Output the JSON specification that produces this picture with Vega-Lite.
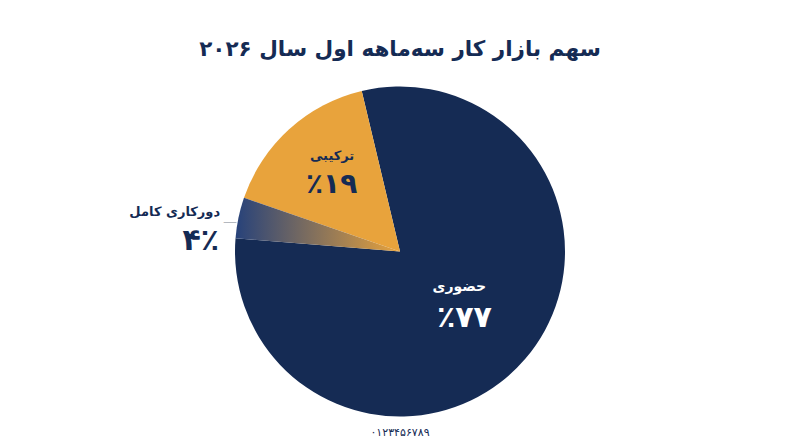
{
"$schema":"https://vega.github.io/schema/vega-lite/v6.json",
"width":800,"height":447,
"autosize":{"type":"fit","contains":"padding"},
"padding":{"top":38,"left":0,"right":0,"bottom":0},
"background":"#ffffff",
"title":{"text":"سهم بازار کار سه‌ماهه اول سال ۲۰۲۶","font":"DejaVu Sans","fontSize":21.5,"fontWeight":"bold","color":"#152b54","anchor":"middle","offset":-4},
"config":{"view":{"stroke":null}},
"data":{"values":[
{"segment":"حضوری","share":80,"pct":"٪۷۷"},
{"segment":"دورکاری کامل","share":4,"pct":"۴٪"},
{"segment":"ترکیبی","share":16,"pct":"٪۱۹"}
]},
"transform":[
{"stack":"share","as":["s0","s1"],"sort":[{"field":"row","order":"ascending"}]},
{"calculate":"(datum.s0+datum.s1)/2","as":"mid"}
],
"layer":[
{"transform":[{"filter":"datum.segment=='حضوری'"}],"mark":{"type":"arc","outerRadius":165,"fill":"#152b54"},"encoding":{"theta":{"field":"s0","type":"quantitative","scale":{"domain":[0,100],"range":[-0.234,6.049]}},"theta2":{"field":"s1"}}},
{"transform":[{"filter":"datum.segment=='ترکیبی'"}],"mark":{"type":"arc","outerRadius":165,"fill":"#e8a33c"},"encoding":{"theta":{"field":"s0","type":"quantitative","scale":{"domain":[0,100],"range":[-0.234,6.049]}},"theta2":{"field":"s1"}}},
{"transform":[{"filter":"datum.segment=='دورکاری کامل'"}],"mark":{"type":"arc","outerRadius":165,"fill":{"gradient":"linear","x1":0,"y1":0,"x2":1,"y2":0,"stops":[{"offset":0,"color":"#27427a"},{"offset":1,"color":"#e8a33c"}]}},"encoding":{"theta":{"field":"s0","type":"quantitative","scale":{"domain":[0,100],"range":[-0.234,6.049]}},"theta2":{"field":"s1"}}},
{"transform":[{"filter":"datum.segment=='حضوری'"}],"mark":{"type":"text","radius":90,"dx":-9,"dy":-23,"font":"DejaVu Sans","fontSize":14,"fontWeight":"bold","color":"#ffffff"},"encoding":{"theta":{"field":"mid","type":"quantitative","scale":{"domain":[0,100],"range":[-0.234,6.049]}},"text":{"field":"segment"}}},
{"transform":[{"filter":"datum.segment=='حضوری'"}],"mark":{"type":"text","radius":90,"dx":-4,"dy":8,"font":"DejaVu Sans","fontSize":30,"fontWeight":"bold","color":"#ffffff"},"encoding":{"theta":{"field":"mid","type":"quantitative","scale":{"domain":[0,100],"range":[-0.234,6.049]}},"text":{"field":"pct"}}},
{"transform":[{"filter":"datum.segment=='ترکیبی'"}],"mark":{"type":"text","radius":110,"dx":6,"dy":-14,"font":"DejaVu Sans","fontSize":13,"fontWeight":"bold","color":"#152b54"},"encoding":{"theta":{"field":"mid","type":"quantitative","scale":{"domain":[0,100],"range":[-0.234,6.049]}},"text":{"field":"segment"}}},
{"transform":[{"filter":"datum.segment=='ترکیبی'"}],"mark":{"type":"text","radius":110,"dx":5.5,"dy":15,"font":"DejaVu Sans","fontSize":28,"fontWeight":"bold","color":"#152b54"},"encoding":{"theta":{"field":"mid","type":"quantitative","scale":{"domain":[0,100],"range":[-0.234,6.049]}},"text":{"field":"pct"}}},
{"transform":[{"filter":"datum.segment=='دورکاری کامل'"}],"mark":{"type":"text","radius":200,"dx":-29.5,"dy":1.4,"font":"DejaVu Sans","fontSize":13,"fontWeight":"bold","color":"#152b54"},"encoding":{"theta":{"field":"mid","type":"quantitative","scale":{"domain":[0,100],"range":[-0.234,6.049]}},"text":{"field":"segment"}}},
{"transform":[{"filter":"datum.segment=='دورکاری کامل'"}],"mark":{"type":"text","radius":200,"dx":-3.5,"dy":30,"font":"DejaVu Sans","fontSize":30,"fontWeight":"bold","color":"#152b54"},"encoding":{"theta":{"field":"mid","type":"quantitative","scale":{"domain":[0,100],"range":[-0.234,6.049]}},"text":{"field":"pct"}}},
{"transform":[{"filter":"datum.segment=='دورکاری کامل'"}],"mark":{"type":"text","radius":172,"dx":-1.6,"dy":5.7,"font":"DejaVu Sans","fontSize":14,"color":"#b4b8bf","text":"—"},"encoding":{"theta":{"field":"mid","type":"quantitative","scale":{"domain":[0,100],"range":[-0.234,6.049]}}}},
{"data":{"values":[{"note":"۰۱۲۳۴۵۶۷۸۹"}]},"mark":{"type":"text","radius":181,"font":"DejaVu Sans","fontSize":11,"color":"#152b54"},"encoding":{"theta":{"value":3.14159},"text":{"field":"note"}}}
]
}
